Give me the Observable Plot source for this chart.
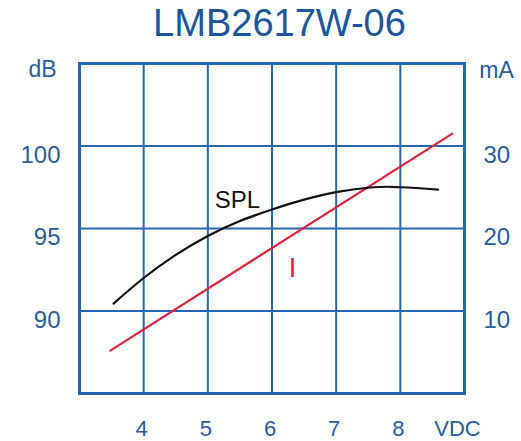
<!DOCTYPE html>
<html>
<head>
<meta charset="utf-8">
<script src="https://cdn.jsdelivr.net/npm/d3@7"></script>
<script src="https://cdn.jsdelivr.net/npm/@observablehq/plot@0.6"></script>
<style>
  html, body { margin: 0; padding: 0; background: #fff; }
  #title { height: 44px; text-align: center; font-family: "Liberation Sans", Arial, sans-serif;
           font-size: 38px; color: #1b55a0; line-height: 46px; padding-left: 38px; }
  svg { display: block; }
</style>
</head>
<body>
<div id="title"></div>
<div id="chart"></div>
<script>
const titleText = "LMB2617W-06";
// x: voltage (VDC)
const xTicks = [4, 5, 6, 7, 8];
const xGrid = [3, 4, 5, 6, 7, 8, 9];
// left axis dB
const dbTicks = [90, 95, 100];
const dbGrid = [85, 90, 95, 100, 105];
// right axis mA
const maTicks = [10, 20, 30];

// SPL curve (dB)
const splV  = [3.53, 4.0, 4.5, 5.0, 5.5, 6.0, 6.5, 7.0, 7.5, 7.8, 8.0, 8.59];
const splDb = [90.45, 92.0, 93.4, 94.55, 95.45, 96.15, 96.75, 97.2, 97.47, 97.53, 97.5, 97.36];
// Current (mA)
const curV  = [3.48, 8.81];
const curMa = [5.2, 31.5];

document.getElementById("title").textContent = titleText;

// map mA onto dB scale: 0 mA -> 85 dB, 40 mA -> 105 dB
const maToDb = m => 85 + m * 0.5;

const spl = splV.map((v, i) => ({v, y: splDb[i]}));
const cur = curV.map((v, i) => ({v, y: maToDb(curMa[i])}));

const blue = "#2766b6";
const textBlue = "#2b5c9c";
const font = "Liberation Sans, Arial, sans-serif";

const plot = Plot.plot({
  width: 521,
  height: 397,
  marginLeft: 79,
  marginRight: 57,
  marginTop: 19,
  marginBottom: 48,
  style: {fontFamily: font, background: "#fff", overflow: "visible"},
  x: {domain: [3, 9]},
  y: {domain: [85, 105]},
  marks: [
    Plot.ruleX(xGrid, {stroke: blue, strokeWidth: 2}),
    Plot.ruleY(dbGrid, {stroke: blue, strokeWidth: 2}),
    Plot.frame({stroke: blue, strokeWidth: 3}),
    Plot.axisX(xTicks, {tickSize: 0, tickPadding: 27, dx: -2, fontSize: 22, fill: textBlue, label: null}),
    Plot.axisY(dbTicks, {anchor: "left", tickSize: 0, tickPadding: 19, dy: 9, fontSize: 24, fill: textBlue, label: null}),
    Plot.axisY(maTicks.map(maToDb), {anchor: "right", tickSize: 0, tickPadding: 19, dy: 9, fontSize: 24, fill: textBlue, label: null,
      tickFormat: d => String(maTicks[maTicks.map(maToDb).indexOf(d)])}),
    Plot.line(cur, {x: "v", y: "y", stroke: "#e3213f", strokeWidth: 2.2}),
    Plot.line(spl, {x: "v", y: "y", stroke: "#111", strokeWidth: 2.2, curve: "monotone-x"}),
    Plot.text(["SPL"], {x: 5.46, y: 96.7, text: d => d, fontSize: 24, fill: "#111"}),
    Plot.text(["I"], {x: 6.32, y: 92.6, text: d => d, fontSize: 27, fill: "#d8203c"}),
    Plot.text(["dB"], {frameAnchor: "top-left", textAnchor: "middle", lineAnchor: "middle", dx: -37, dy: 6, text: d => d, fontSize: 23, fill: textBlue}),
    Plot.text(["mA"], {frameAnchor: "top-right", textAnchor: "middle", lineAnchor: "middle", dx: 32, dy: 7, text: d => d, fontSize: 23, fill: textBlue}),
    Plot.text(["VDC"], {frameAnchor: "bottom-right", textAnchor: "middle", lineAnchor: "middle", dx: -7, dy: 35, text: d => d, fontSize: 22, fill: textBlue})
  ]
});
document.getElementById("chart").append(plot);
</script>
</body>
</html>
